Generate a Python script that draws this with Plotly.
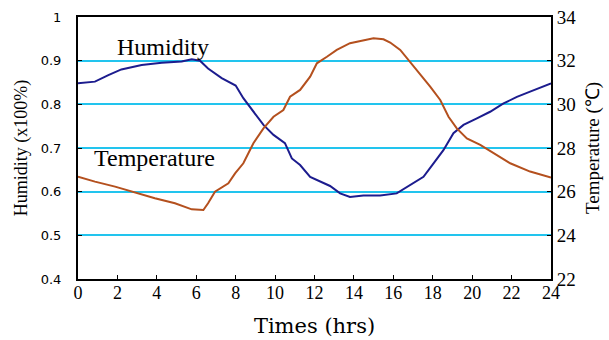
import plotly.graph_objects as go

# Humidity (left axis, fraction)
hum_hours = [0, 0.86, 1.54, 2.2, 3.23, 4.25, 5.26, 5.77, 6.19, 6.6, 7.29, 8.0, 8.39, 8.9,
             9.41, 9.92, 10.5, 10.85, 11.27, 11.78, 12.28, 12.79, 13.3, 13.8, 14.48, 15.33,
             16.17, 16.85, 17.53, 18.04, 18.54, 19.05, 19.56, 20.24, 20.91, 21.59, 22.27,
             22.94, 23.79, 24]
humidity = [0.848, 0.852, 0.867, 0.880, 0.890, 0.895, 0.898, 0.903, 0.900, 0.882, 0.860,
            0.843, 0.814, 0.783, 0.753, 0.730, 0.711, 0.676, 0.661, 0.634, 0.623, 0.613,
            0.596, 0.588, 0.591, 0.591, 0.596, 0.615, 0.634, 0.665, 0.695, 0.734, 0.753,
            0.768, 0.783, 0.802, 0.817, 0.829, 0.844, 0.848]

# Temperature (right axis, °C)
temp_hours = [0, 0.86, 1.88, 2.89, 3.9, 4.92, 5.77, 6.36, 6.6, 6.95, 7.63, 7.97, 8.39, 8.9,
              9.41, 9.92, 10.42, 10.76, 11.27, 11.78, 12.12, 12.63, 13.13, 13.8, 14.48,
              14.99, 15.5, 15.84, 16.35, 16.85, 17.36, 17.87, 18.38, 18.8, 19.22, 19.73,
              20.41, 21.08, 21.93, 22.94, 23.92, 24]
temperature = [26.69, 26.46, 26.23, 25.95, 25.70, 25.47, 25.19, 25.16, 25.47, 26.0, 26.38,
               26.84, 27.30, 28.22, 28.90, 29.43, 29.74, 30.35, 30.66, 31.27, 31.88, 32.18,
               32.49, 32.80, 32.92, 33.03, 32.98, 32.83, 32.49, 31.95, 31.35, 30.81, 30.20,
               29.43, 28.90, 28.44, 28.14, 27.76, 27.30, 26.92, 26.69, 26.65]

x_ticks = list(range(0, 25, 2))
hum_ticks = [0.4, 0.5, 0.6, 0.7, 0.8, 0.9, 1.0]
hum_tick_text = ["0.4", "0.5", "0.6", "0.7", "0.8", "0.9", "1"]
temp_ticks = [22, 24, 26, 28, 30, 32, 34]

fig = go.Figure()
fig.add_trace(go.Scatter(x=hum_hours, y=humidity, mode="lines",
                         line=dict(color="#1c1c8e", width=2), yaxis="y", showlegend=False))
fig.add_trace(go.Scatter(x=temp_hours, y=temperature, mode="lines",
                         line=dict(color="#b4501e", width=2), yaxis="y2", showlegend=False))

fig.add_annotation(x=4.3, y=0.932, xref="x", yref="y", text="Humidity", showarrow=False,
                   font=dict(family="Liberation Serif", size=24, color="black"))
fig.add_annotation(x=3.9, y=0.677, xref="x", yref="y", text="Temperature", showarrow=False,
                   font=dict(family="Liberation Serif", size=24, color="black"))

fig.update_layout(
    width=609, height=340,
    margin=dict(l=78, r=58, t=17, b=61),
    paper_bgcolor="white", plot_bgcolor="white",
    xaxis=dict(range=[0, 24], tickvals=x_ticks, ticks="inside", ticklen=4,
               tickcolor="black", showgrid=False, zeroline=False, automargin=False,
               showline=True, linecolor="black", linewidth=2, mirror=True,
               ticklabelstandoff=-4,
               tickfont=dict(family="Liberation Serif", size=18, color="black"),
               title=dict(text="Times (hrs)", standoff=17,
                          font=dict(family="DejaVu Serif", size=21, color="black"))),
    yaxis=dict(range=[0.4, 1.0], tickvals=hum_ticks, ticktext=hum_tick_text,
               ticks="inside", ticklen=4, tickcolor="black", automargin=False,
               showgrid=True, gridcolor="#22c4ee", gridwidth=2, zeroline=False,
               showline=True, linecolor="black", linewidth=2,
               ticklabelstandoff=12,
               tickfont=dict(family="DejaVu Sans", size=13, color="black"),
               title=dict(text="Humidity (x100%)", standoff=8,
                          font=dict(family="Liberation Serif", size=18, color="black"))),
    yaxis2=dict(range=[22, 34], tickvals=temp_ticks, overlaying="y", side="right",
                ticks="inside", ticklen=4, tickcolor="black", showgrid=False,
                zeroline=False, showline=True, linecolor="black", linewidth=2,
                automargin=False,
                tickfont=dict(family="Liberation Serif", size=19, color="black"),
                title=dict(text="Temperature (℃)", standoff=10,
                           font=dict(family="Liberation Serif", size=19, color="black"))),
)

fig.write_html("out.html")
